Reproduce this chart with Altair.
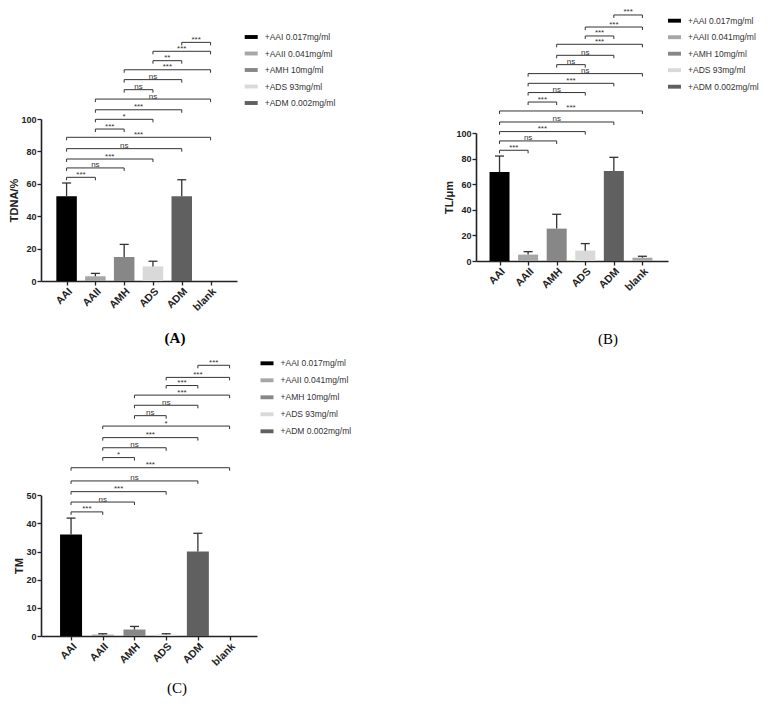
import json
import altair as alt
import pandas as pd

# ---------------- data ----------------
categories = ["AAI", "AAII", "AMH", "ADS", "ADM", "blank"]
legend_labels = ["+AAI 0.017mg/ml", "+AAII 0.041mg/ml", "+AMH 10mg/ml",
                 "+ADS 93mg/ml", "+ADM 0.002mg/ml"]
bar_colors = ["#000000", "#a6a6a6", "#878787", "#d9d9d9", "#606060", "#a8a8a8"]

tdna_mean = [52.3, 2.9, 14.8, 9.0, 52.3, 0.0]
tdna_sd = [8.2, 1.8, 7.8, 3.2, 10.2, 0.0]
tl_mean = [69.5, 5.0, 25.3, 8.1, 70.3, 2.6]
tl_sd = [12.5, 2.3, 11.2, 5.5, 10.7, 1.1]
tm_mean = [36.1, 0.5, 2.3, 0.5, 30.0, 0.0]
tm_sd = [5.8, 0.3, 1.1, 0.3, 6.5, 0.0]

pair_left = [0, 0, 0, 0, 0, 1, 1, 1, 1, 2, 2, 2, 3, 3, 4]
pair_right = [1, 2, 3, 4, 5, 2, 3, 4, 5, 3, 4, 5, 4, 5, 5]

tdna_bracket_y = [64.0, 69.8, 75.3, 81.7, 88.7, 93.8, 99.8, 105.7, 112.3,
                  118.1, 124.3, 130.4, 136.0, 141.8, 147.3]
tdna_sig = ["***", "ns", "***", "ns", "***", "***", "*", "***", "ns",
            "ns", "ns", "***", "**", "***", "***"]
tl_bracket_y = [86.5, 93.8, 101.1, 108.6, 117.2, 124.2, 131.6, 138.8, 146.4,
                153.4, 160.7, 169.3, 175.8, 182.8, 192.2]
tl_sig = ["***", "ns", "***", "ns", "***", "***", "ns", "***", "ns",
          "ns", "ns", "***", "***", "***", "***"]
tm_bracket_y = [44.1, 47.6, 51.3, 55.1, 59.8, 63.4, 66.9, 70.5, 74.6,
                78.3, 82.0, 85.6, 89.0, 91.9, 96.2]
tm_sig = ["***", "ns", "***", "ns", "***", "*", "ns", "***", "*",
          "ns", "ns", "***", "***", "***", "***"]

tdna_ticks = [0, 20, 40, 60, 80, 100]
tl_ticks = [0, 20, 40, 60, 80, 100]
tm_ticks = [0, 10, 20, 30, 40, 50]

INK = "#222222"
LABEL_EXPR = json.dumps(categories) + "[datum.value]"


def make_panel(mean, sd, br_y, sig, ytitle, yticks, W, H, axis_px,
               m_left, m_right, bar_px, leg_x, leg_y, row_pad,
               title_text, title_dx, title_offset, drop_px, title_weight):
    bars_df = pd.DataFrame({
        "i": list(range(len(categories))),
        "cat": categories,
        "mean": mean,
        "sd": sd,
        "top": [m + s for m, s in zip(mean, sd)],
        "group": legend_labels + ["blank"],
    })
    err_df = bars_df[bars_df["sd"] > 0]
    br_df = pd.DataFrame({
        "left": pair_left,
        "right": pair_right,
        "mid": [(a + b) / 2 for a, b in zip(pair_left, pair_right)],
        "h": br_y,
        "sig": sig,
    })
    ends_df = pd.DataFrame({
        "pos": pair_left + pair_right,
        "h": br_y + br_y,
    })

    ymax = yticks[-1]
    xscale = alt.Scale(domain=[-m_left, len(categories) - 1 + m_right],
                       nice=False, zero=False)
    yscale = alt.Scale(domain=[0, ymax], range=[H, H - axis_px],
                       nice=False, zero=True)
    xaxis = alt.Axis(values=list(range(len(categories))), labelExpr=LABEL_EXPR,
                     labelAngle=-45, labelAlign="right", labelBaseline="top",
                     labelOverlap=False, labelBound=False, labelFontSize=10.5,
                     title=None, grid=False, labelPadding=1)
    yaxis = alt.Axis(values=yticks, grid=False, title=ytitle, minExtent=0)

    def X(field, **kw):
        return alt.X(field, axis=xaxis, **kw)

    def Y(field, **kw):
        return alt.Y(field, axis=yaxis, **kw)

    bars = alt.Chart(bars_df).mark_bar(size=bar_px, orient="vertical").encode(
        x=X("i:Q", scale=xscale),
        y=Y("mean:Q", scale=yscale),
        color=alt.Color(
            "group:N",
            scale=alt.Scale(domain=legend_labels + ["blank"], range=bar_colors),
            legend=alt.Legend(
                values=legend_labels, title=None, orient="none",
                legendX=leg_x, legendY=leg_y, rowPadding=row_pad,
                symbolType="M-1,-0.3H1V0.3H-1Z", symbolSize=169,
                symbolStrokeWidth=0, symbolOpacity=1,
                labelFontSize=8.5, labelOffset=7, labelColor="#333333",
                labelFont="Liberation Sans", padding=0,
            ),
        ),
    )
    err_line = alt.Chart(err_df).mark_rule(color="#333333", strokeWidth=1.3).encode(
        x=X("i:Q"),
        y=Y("mean:Q"),
        y2="top:Q",
    )
    err_cap = alt.Chart(err_df).mark_rule(
        color="#333333", strokeWidth=1.3, xOffset=-4.5, x2Offset=4.5
    ).encode(
        x=X("i:Q"),
        x2="i:Q",
        y=Y("top:Q"),
    )
    br_line = alt.Chart(br_df).mark_rule(color="#333333", strokeWidth=1).encode(
        x=X("left:Q"),
        x2="right:Q",
        y=Y("h:Q"),
    )
    br_end = alt.Chart(ends_df).mark_rule(
        color="#333333", strokeWidth=1, y2Offset=drop_px
    ).encode(
        x=X("pos:Q"),
        y=Y("h:Q"),
        y2="h:Q",
    )
    br_text = alt.Chart(br_df).mark_text(
        fontSize=8, baseline="alphabetic", dy=-0.5, color="#333333",
        font="Liberation Sans",
    ).encode(
        x=X("mid:Q"),
        y=Y("h:Q"),
        text="sig:N",
    )
    return alt.layer(bars, err_line, err_cap, br_line, br_end, br_text).properties(
        width=W, height=H,
        title=alt.TitleParams(
            title_text, orient="bottom", anchor="middle", frame="group",
            font="Liberation Serif", fontSize=15, fontWeight=title_weight,
            color="#000000", dx=title_dx, offset=title_offset,
        ),
    )


panel_a = make_panel(tdna_mean, tdna_sd, tdna_bracket_y, tdna_sig, "TDNA/%",
                     tdna_ticks, W=196, H=269, axis_px=162,
                     m_left=0.715, m_right=0.745, bar_px=20.5,
                     leg_x=203.7, leg_y=18.5, row_pad=5.5,
                     title_text="(A)", title_dx=36, title_offset=18, drop_px=3,
                     title_weight="bold")
panel_b = make_panel(tl_mean, tl_sd, tl_bracket_y, tl_sig, "TL/μm",
                     tl_ticks, W=192, H=249, axis_px=128,
                     m_left=0.648, m_right=0.72, bar_px=20,
                     leg_x=192, leg_y=2.2, row_pad=5.5,
                     title_text="(B)", title_dx=36, title_offset=39, drop_px=3,
                     title_weight="normal")
panel_c = make_panel(tm_mean, tm_sd, tm_bracket_y, tm_sig, "TM",
                     tm_ticks, W=216, H=278, axis_px=140.7,
                     m_left=0.79, m_right=0.707, bar_px=22,
                     leg_x=219.5, leg_y=-1.2, row_pad=6,
                     title_text="(C)", title_dx=28, title_offset=13, drop_px=3,
                     title_weight="normal")

chart = alt.vconcat(
    alt.hconcat(panel_a, panel_b, spacing=107).resolve_scale(color="independent"),
    panel_c,
    spacing=9,
).resolve_scale(
    color="independent",
).properties(
    padding=0,
).configure(
    font="Liberation Sans",
).configure_view(
    strokeWidth=0,
).configure_axis(
    domainColor=INK, domainWidth=1.6, tickColor=INK, tickWidth=1.3, tickSize=4,
    labelFont="Liberation Sans", labelFontWeight="bold", labelFontSize=9,
    labelColor=INK, titleFont="Liberation Sans", titleFontWeight="bold",
    titleFontSize=11, titleColor=INK, labelPadding=1, titlePadding=1,
    labelOverlap=False,
)

chart.save("out.html", embed_options={"renderer": "svg", "actions": False})
